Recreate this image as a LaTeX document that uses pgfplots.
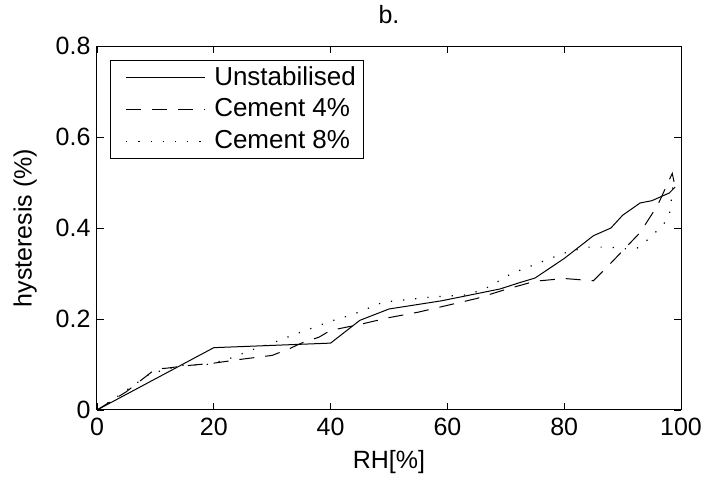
\documentclass[border=0pt]{standalone}
\usepackage{pgfplots}
\pgfplotsset{compat=1.18}
\usepackage{fontspec}
\setmainfont{Liberation Sans}
\begin{document}
\fontsize{25}{30}\selectfont
\begin{tikzpicture}
\path[use as bounding box] (0,0) rectangle (722pt,489pt);
\begin{axis}[
  at={(97pt,79pt)}, anchor=south west,
  scale only axis, width=584pt, height=364pt,
  xmin=0, xmax=100, ymin=0, ymax=0.8,
  xtick={0,20,...,100}, ytick={0,0.2,0.4,0.6,0.8},
  yticklabels={0,0.2,0.4,0.6,0.8},
  tick align=inside, major tick length=7pt,
  tick style={black, line width=0.8pt},
  axis line style={line width=1pt},
  /pgf/number format/assume math mode=true,
  ticklabel style={font=\fontsize{25}{30}\selectfont},
  yticklabel style={xshift=2pt},
  label style={font=\fontsize{25}{30}\selectfont},
  title style={font=\fontsize{25}{30}\selectfont, yshift=8pt},
  title={b.},
  xlabel={RH[\%]}, ylabel={hysteresis (\%)},
  xlabel style={yshift=3pt},
  ylabel style={yshift=2pt},
  legend style={at={(0.022,0.962)}, anchor=north west, draw=black, line width=0.8pt,
    font=\fontsize{26}{31}\selectfont, row sep=6pt, inner xsep=6pt, inner ysep=4pt},
  legend cell align=left,
  legend image code/.code={\draw[#1] (0pt,0pt) -- (79pt,0pt); \path[draw=none] (-10pt,0pt) -- (86pt,0pt);},
]
\addplot[black, line width=1pt] coordinates {
(0,0) (20,0.137) (40,0.147) (45,0.197) (50,0.222) (59,0.240) (69,0.266) (72.4,0.28)
(75,0.290) (80,0.333) (85,0.383) (88,0.400) (90,0.428) (93,0.455) (95,0.460)
(98,0.477) (99,0.490)};
\addlegendentry{Unstabilised}
\addplot[black, line width=1pt, dash pattern=on 15pt off 11pt] coordinates {
(0,0) (5,0.04) (10,0.09) (12,0.092) (15,0.097) (20,0.103) (25,0.112) (30,0.12)
(33,0.135) (35,0.147) (38,0.16) (40,0.175) (45,0.188) (50,0.203) (55,0.215)
(60,0.23) (65,0.245) (70,0.265) (75,0.283) (80,0.289) (85,0.284) (88,0.323)
(93,0.39) (96,0.45) (98.5,0.52) (99,0.49)};
\addlegendentry{Cement 4\%}
\addplot[black, line width=1.2pt, dash pattern=on 1.2pt off 11pt] coordinates {
(0,0) (3,0.025) (9,0.079) (12,0.09) (15,0.099) (18.5,0.099) (22,0.11) (24,0.119)
(26,0.13) (30,0.147) (34,0.167) (36,0.176) (40,0.195) (44,0.211) (49,0.237)
(57,0.248) (63.5,0.253) (67,0.27) (71,0.30) (75,0.32) (80,0.345) (84,0.358)
(88,0.358) (90,0.354) (92.5,0.356) (94,0.371) (95.5,0.389) (97,0.408) (98,0.428)
(98.8,0.51)};
\addlegendentry{Cement 8\%}
\end{axis}
\end{tikzpicture}
\end{document}
